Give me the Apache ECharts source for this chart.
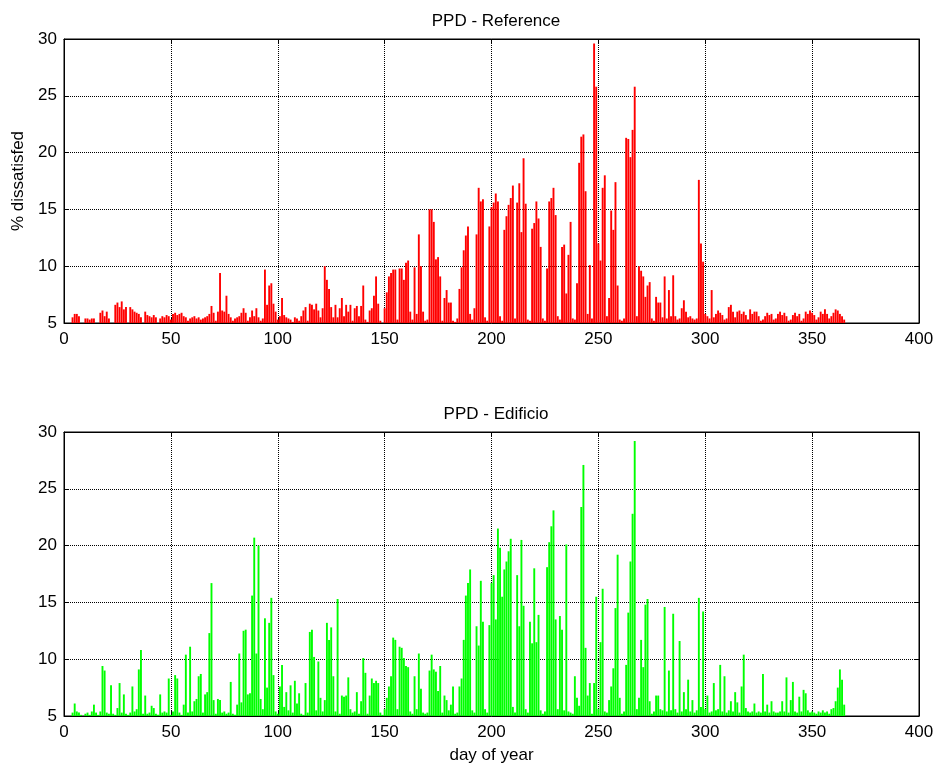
<!DOCTYPE html>
<html>
<head>
<meta charset="utf-8">
<script src="https://cdn.jsdelivr.net/npm/echarts@6/dist/echarts.min.js"></script>
<style>
html,body{margin:0;padding:0;background:#fff;}
#chart{width:941px;height:771px;}
</style>
</head>
<body>
<div id="chart"></div>
<script>
// daily peak PPD (% dissatisfied), days 1..365
var refPPD = [
5,5,5,5.5,5.8,5.8,5.6,5,5,5.4,
5.4,5.3,5.4,5.4,5,5,5.9,6.1,5.6,6.0,
5.4,5,5,6.6,6.8,6.4,6.9,6.2,6.4,5,
6.4,6.2,6.0,5.9,5.8,5.5,5,6.0,5.7,5.6,
5.5,5.7,5.5,5,5.4,5.6,5.5,5.7,5.6,5.3,
5.8,5.9,5.7,5.8,5.9,5.6,5.5,5.2,5.4,5.5,
5.6,5.4,5.5,5.3,5.4,5.5,5.6,5.8,6.5,5.9,
5.2,6.0,9.4,6.1,6.0,7.4,5.8,5.5,5.2,5.4,
5.5,5.6,5.9,6.3,5.9,5.2,5.5,6.1,5.6,6.3,
5.5,5.2,5.4,9.7,6.6,8.3,8.5,6.7,6.0,5.3,
5.6,7.2,5.7,5.5,5.4,5.3,5.1,5.5,5.4,5.2,
5.6,6.1,6.4,5.2,6.7,6.6,6.2,6.7,6.1,5.5,
6.3,10.0,8.8,8.0,6.4,5.5,6.6,5.5,6.3,7.2,
5.6,6.6,6.0,6.6,5.2,6.3,6.5,5.6,6.5,8.3,
5.3,5.1,6.1,6.3,7.4,9.1,6.7,5.2,5.0,6.3,
7.7,9.1,9.4,9.7,9.7,5.3,9.8,9.8,8.8,10.3,
10.5,6.0,5.3,9.9,5.8,12.8,10.0,6.0,5.2,5.3,
15.0,15.0,13.9,10.6,10.8,9.1,5.2,7.2,7.9,6.8,
6.8,5.2,5.1,5.4,8.0,9.9,11.4,12.7,13.5,5.8,
5.3,6.3,12.8,16.9,15.7,15.9,5.5,5.2,13.5,15.2,
15.6,16.4,15.7,5.6,5.2,13.2,14.4,15.4,16.0,17.1,
5.4,15.6,17.3,13.0,19.5,15.5,5.3,5.2,13.3,13.8,
15.7,14.2,11.7,5.4,5.2,9.8,15.7,16.0,16.9,14.5,
5.6,5.3,11.7,11.9,7.6,11.0,13.9,5.4,5.3,8.5,
19.1,21.4,21.6,16.6,5.8,10.1,5.4,29.6,25.8,12.0,
10.5,16.9,18.0,5.6,7.2,14.9,13.2,17.4,8.3,5.3,
5.2,5.4,21.3,21.2,19.6,22.0,25.8,5.6,10.0,9.6,
9.1,7.3,8.3,8.6,5.4,5.2,7.3,6.8,6.8,5.5,
9.1,5.4,7.9,5.6,9.2,5.6,5.3,5.4,6.3,7.0,
6.0,5.5,5.6,5.4,5.3,5.4,17.6,12.0,10.4,5.8,
5.6,5.4,7.9,5.5,5.8,6.1,5.9,5.7,5.3,5.4,
6.4,6.6,6.0,5.5,6.0,6.1,5.8,6.0,5.7,5.3,
6.2,5.8,6.0,6.0,5.6,5.2,5.3,5.6,5.9,5.7,
5.8,5.3,5.4,5.8,6.0,5.7,5.9,5.6,5.2,5.3,
5.7,5.9,5.6,5.8,5.2,5.4,6.0,5.8,6.1,5.9,
5.7,5.3,5.5,6.0,5.8,6.2,5.8,5.4,5.6,5.9,
6.2,6.1,5.8,5.6,5.3
];
var edificioPPD = [
5,5,5,5.3,6.1,5.4,5.3,5.1,5,5.2,
5.3,5.1,5.4,6.0,5.3,5.1,5.4,9.4,9.0,5.3,
5.2,7.7,5.2,5.1,5.7,7.9,5.3,6.9,5.2,5.1,
5.3,7.6,5.4,5.6,9.1,10.8,5.2,6.8,5.2,5.3,
5.9,5.7,5.2,5.1,6.9,5.3,5.4,5.3,8.3,5.1,
5.4,8.6,8.3,5.3,5.1,6.0,10.4,5.3,11.1,5.4,
6.3,6.5,8.5,8.7,5.3,6.9,7.1,12.3,16.7,6.4,
5.2,6.5,6.4,5.3,5.4,5.2,5.3,8.0,5.2,5.1,
6.0,10.5,6.2,12.5,12.6,6.9,7.0,15.6,20.7,10.5,
20.0,6.5,5.6,13.6,7.5,13.2,15.4,8.6,5.4,5.2,
7.6,9.5,5.8,7.1,5.5,7.7,5.3,8.1,6.1,7.0,
5.2,5.1,7.9,5.3,12.4,12.6,10.2,5.5,9.8,6.6,
5.4,6.4,13.2,11.7,12.8,8.5,5.4,15.3,5.2,6.8,
6.7,6.8,8.4,5.6,5.3,5.4,7.1,5.2,6.3,10.1,
8.8,5.2,6.8,8.3,7.9,8.1,7.9,5.3,5.1,5.6,
6.6,7.6,8.5,11.9,11.7,5.6,11.1,11.0,10.1,9.4,
9.3,5.4,5.2,8.5,5.6,10.5,7.4,5.3,5.2,5.3,
9.0,10.4,9.1,8.9,7.2,9.4,5.3,6.8,6.4,5.5,
6.0,7.6,5.2,5.3,7.6,8.3,11.7,15.6,16.7,17.9,
5.5,5.3,12.9,11.2,16.9,13.3,5.6,5.3,13.0,16.7,
17.4,13.5,21.5,19.8,15.5,17.9,18.6,19.5,20.6,5.8,
5.3,17.4,12.9,20.5,14.7,5.6,5.3,13.3,11.4,18.0,
11.5,13.9,5.5,5.2,5.4,18.1,20.3,21.7,23.1,13.5,
5.6,13.8,12.6,5.5,20.1,5.4,5.3,5.2,8.5,6.6,
5.9,23.4,27.1,11.0,6.8,7.9,5.2,7.9,15.5,5.6,
11.5,16.2,5.4,5.3,6.4,7.6,9.2,14.5,19.2,6.6,
5.2,5.4,9.5,14.1,18.6,22.8,29.2,5.6,6.6,11.7,
9.3,14.8,15.3,6.3,5.2,5.4,6.8,6.8,5.6,5.5,
14.6,5.4,9.0,5.5,14.0,5.6,5.3,11.6,5.4,7.1,
5.6,8.2,5.4,6.4,5.3,5.5,15.4,5.8,14.2,5.6,
6.8,5.3,5.4,7.9,5.5,5.6,9.5,5.4,8.5,5.3,
5.5,6.3,5.4,7.1,6.2,5.3,7.6,10.4,5.7,5.4,
5.3,5.4,6.1,5.3,5.4,5.3,8.7,5.4,6.0,5.3,
6.3,5.4,5.3,5.3,5.4,6.3,5.4,8.4,5.3,6.4,
8.0,5.4,5.3,6.7,5.4,7.3,7.0,5.5,5.3,5.4,
5.3,5.2,5.4,5.3,5.5,5.3,5.4,5.2,5.6,5.7,
6.3,7.5,9.1,8.2,6.0
];
var days = [];
for (var i = 0; i < refPPD.length; i++) days.push(i + 1);

var titles = ['PPD - Reference', 'PPD - Edificio'];
var yName = '% dissatisfed';
var xName = 'day of year';

var FONT = 'Liberation Sans, Arial, sans-serif';
var chart = echarts.init(document.getElementById('chart'), null, {renderer: 'canvas'});

function xAx(g, pos, labels, name) {
  return {
    gridIndex: g, type: 'value', min: 0, max: 400, interval: 50, position: pos,
    name: name || '', nameLocation: 'middle', nameGap: 31,
    nameTextStyle: {color: '#000', fontSize: 17, fontFamily: FONT},
    axisLine: {show: true, onZero: false, lineStyle: {color: '#000', width: 1}},
    axisTick: {show: true, inside: true, length: 5, lineStyle: {color: '#000'}},
    axisLabel: {show: labels, color: '#000', fontSize: 17, fontFamily: FONT, margin: 8},
    splitLine: {show: labels, lineStyle: {color: '#000', width: 1, type: [1, 1]}}
  };
}
function yAx(g, pos, labels, name) {
  return {
    gridIndex: g, type: 'value', min: 5, max: 30, interval: 5, position: pos,
    name: name || '', nameLocation: 'middle', nameGap: 34,
    nameTextStyle: {color: '#000', fontSize: 17, fontFamily: FONT},
    axisLine: {show: true, onZero: false, lineStyle: {color: '#000', width: 1}},
    axisTick: {show: true, inside: true, length: 5, lineStyle: {color: '#000'}},
    axisLabel: {show: labels, color: '#000', fontSize: 17, fontFamily: FONT, margin: 7},
    splitLine: {show: labels, lineStyle: {color: '#000', width: 1, type: [1, 1]}}
  };
}

var option = {
  backgroundColor: '#fff',
  animation: false,
  title: [
    {text: titles[0], left: 491, top: 8, textAlign: 'center',
     textStyle: {color: '#000', fontSize: 17, fontWeight: 'normal', fontFamily: FONT}},
    {text: titles[1], left: 491, top: 401, textAlign: 'center',
     textStyle: {color: '#000', fontSize: 17, fontWeight: 'normal', fontFamily: FONT}}
  ],
  grid: [
    {left: 64, top: 39, width: 855, height: 284, show: true, borderColor: '#000', borderWidth: 1, backgroundColor: 'transparent'},
    {left: 64, top: 432, width: 855, height: 284, show: true, borderColor: '#000', borderWidth: 1, backgroundColor: 'transparent'}
  ],
  xAxis: [
    xAx(0, 'bottom', true), xAx(0, 'top', false),
    xAx(1, 'bottom', true, xName), xAx(1, 'top', false)
  ],
  yAxis: [
    yAx(0, 'left', true, yName), yAx(0, 'right', false),
    yAx(1, 'left', true), yAx(1, 'right', false)
  ],
  series: [
    {type: 'bar', xAxisIndex: 0, yAxisIndex: 0, barWidth: 1.9, clip: true,
     itemStyle: {color: '#ff0000'},
     data: days.map(function (d, i) { return [d, refPPD[i]]; })},
    {type: 'bar', xAxisIndex: 2, yAxisIndex: 2, barWidth: 1.9, clip: true,
     itemStyle: {color: '#00ff00'},
     data: days.map(function (d, i) { return [d, edificioPPD[i]]; })}
  ]
};
chart.setOption(option);
</script>
</body>
</html>
